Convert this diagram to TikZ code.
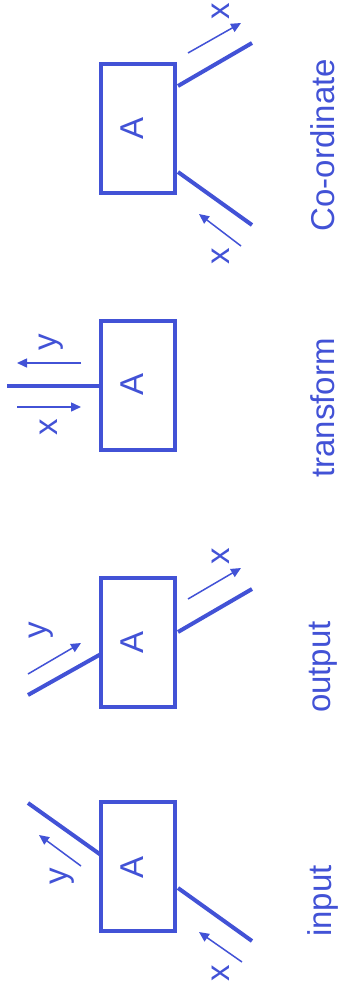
\documentclass[tikz,border=0pt]{standalone}
\usepackage{fontspec}
\setmainfont{Liberation Sans}
\usetikzlibrary{arrows.meta}
\definecolor{ink}{RGB}{66,82,214}
\begin{document}
\begin{tikzpicture}[x=1pt,y=-1pt,
  blk/.style={draw=ink,line width=3.5pt,minimum width=74pt,minimum height=129pt,inner sep=0pt},
  lab/.style={text=ink,font=\fontsize{33}{36}\selectfont,rotate=90,inner sep=0pt},
  wire/.style={draw=ink,line width=4pt},
  flow/.style={draw=ink,line width=1.5pt,-{Triangle[length=10pt,width=9pt]}}]
\useasboundingbox (0,0) rectangle (345,992);
% Co-ordinate
\node[blk] (bC) at (138,128.5) {};
\node[lab] (aC) at (132,128) {A};
\coordinate (c1a) at (178,86); \coordinate (c1b) at (252,43);
\coordinate (c2a) at (178,172); \coordinate (c2b) at (252,225);
\draw[wire] (c1a) -- (c1b);
\draw[wire] (c2a) -- (c2b);
\coordinate (ca1) at (188,53); \coordinate (ca2) at (241,23);
\coordinate (cb1) at (241,246); \coordinate (cb2) at (199,214);
\draw[flow] (ca1) -- (ca2);
\draw[flow] (cb1) -- (cb2);
\node[lab] (xC1) at (220.5,11) {x};
\node[lab] (xC2) at (220.5,256) {x};
\node[lab] (tC) at (323,145) {Co-ordinate};
% transform
\node[blk] (bT) at (138,385.5) {};
\node[lab] (aT) at (132,384) {A};
\coordinate (t1) at (7,386);
\draw[wire] (t1) -- (bT.west |- t1);
\coordinate (ty1) at (81,363); \coordinate (ty2) at (17,363);
\coordinate (tx1) at (17,407); \coordinate (tx2) at (81,407);
\draw[flow] (ty1) -- (ty2);
\draw[flow] (tx1) -- (tx2);
\node[lab] (yT) at (51.5,342) {y};
\node[lab] (xT) at (49,427) {x};
\node[lab] (tT) at (323,408) {transform};
% output
\node[blk] (bO) at (138,642.5) {};
\node[lab] (aO) at (132,642) {A};
\coordinate (o1a) at (28,695); \coordinate (o1b) at (101,654);
\coordinate (o2a) at (178,632); \coordinate (o2b) at (252,589);
\draw[wire] (o1a) -- (o1b);
\draw[wire] (o2a) -- (o2b);
\coordinate (oy1) at (28,674); \coordinate (oy2) at (81,643);
\coordinate (ox1) at (188,599); \coordinate (ox2) at (241,568);
\draw[flow] (oy1) -- (oy2);
\draw[flow] (ox1) -- (ox2);
\node[lab] (yO) at (41,630) {y};
\node[lab] (xO) at (220.5,556) {x};
\node[lab] (tO) at (323,667) {output};
% input
\node[blk] (bI) at (138,866.5) {};
\node[lab] (aI) at (132,867) {A};
\coordinate (i1a) at (28,803); \coordinate (i1b) at (101,855);
\coordinate (i2a) at (178,888); \coordinate (i2b) at (252,941);
\draw[wire] (i1a) -- (i1b);
\draw[wire] (i2a) -- (i2b);
\coordinate (iy1) at (81,866); \coordinate (iy2) at (39,835);
\coordinate (ix1) at (242,962); \coordinate (ix2) at (199,932);
\draw[flow] (iy1) -- (iy2);
\draw[flow] (ix1) -- (ix2);
\node[lab] (yI) at (62,876) {y};
\node[lab] (xI) at (220.5,973) {x};
\node[lab] (tI) at (323,901) {input};
\end{tikzpicture}
\end{document}
